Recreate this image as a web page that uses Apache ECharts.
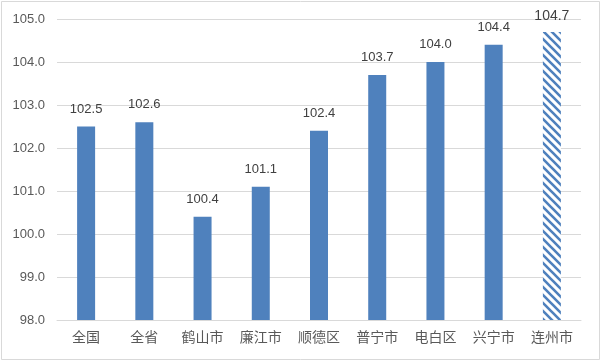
<!DOCTYPE html>
<html><head><meta charset="utf-8">
<script src="https://cdn.jsdelivr.net/npm/echarts@6/dist/echarts.min.js"></script>
<style>html,body{margin:0;padding:0;background:#fff}#c{width:602px;height:362px}</style>
</head><body><div id="c"></div>
<script>
const categories = ['全国','全省','鹤山市','廉江市','顺德区','普宁市','电白区','兴宁市','连州市'];
const values = [102.5, 102.6, 100.4, 101.1, 102.4, 103.7, 104.0, 104.4, 104.7];
const hatchedIndex = 8;
const yMin = 98, yMax = 105, yStep = 1;

function makePattern(){
  const s = 8;
  const cv = document.createElement('canvas');
  cv.width = s; cv.height = s;
  const ctx = cv.getContext('2d');
  ctx.fillStyle = '#ffffff'; ctx.fillRect(0,0,s,s);
  ctx.strokeStyle = '#4f81bd'; ctx.lineWidth = 2.6;
  ctx.beginPath();
  ctx.moveTo(-2,-2); ctx.lineTo(s+2,s+2);
  ctx.moveTo(-2,s-2); ctx.lineTo(2,s+2);
  ctx.moveTo(s-2,-2); ctx.lineTo(s+2,2);
  ctx.stroke();
  return cv;
}
const pattern = makePattern();

const chart = echarts.init(document.getElementById('c'), null, {renderer:'canvas'});
const data = values.map((v,i)=> i===hatchedIndex ? {value:v, itemStyle:{color:{image:pattern, repeat:'repeat'}}, label:{fontSize:14, distance:9}} : v);
chart.setOption({
  animation:false,
  backgroundColor:'#fff',
  graphic:[{type:'rect', shape:{x:1.5,y:1.5,width:598,height:358}, style:{fill:'none', stroke:'#d9d9d9', lineWidth:1}, silent:true}],
  grid:{left:57, right:21, top:19, bottom:42, containLabel:false},
  xAxis:{type:'category', data:categories,
    axisLine:{lineStyle:{color:'#d9d9d9'}}, axisTick:{show:false},
    axisLabel:{color:'#595959', fontSize:14, margin:10, fontFamily:'Noto Sans CJK SC'}},
  yAxis:{type:'value', min:yMin, max:yMax, interval:yStep,
    axisLine:{show:false}, axisTick:{show:false},
    splitLine:{lineStyle:{color:'#d9d9d9'}},
    axisLabel:{color:'#595959', fontSize:13, margin:12, fontFamily:'Liberation Sans', formatter:v=>v.toFixed(1)}},
  series:[{type:'bar', data:data, barWidth:18,
    itemStyle:{color:'#4f81bd'},
    label:{show:true, position:'top', distance:11, color:'#404040', fontSize:13, fontFamily:'Liberation Sans', formatter:p=>p.value.toFixed(1)}}]
});
</script></body></html>
